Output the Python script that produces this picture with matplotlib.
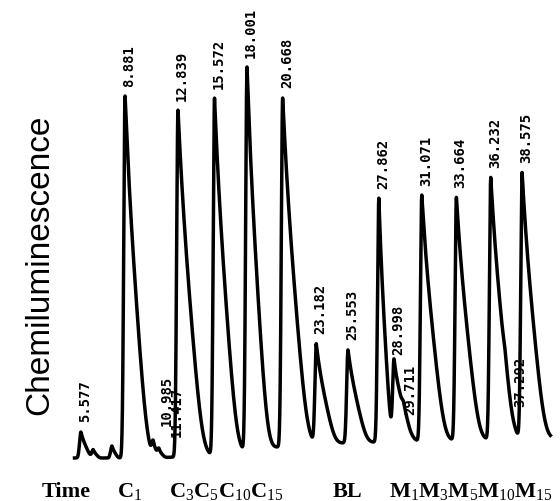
import numpy as np
import matplotlib.pyplot as plt

# retention times (min) printed by the integrator, and peak heights above baseline
peak_times = [5.577, 8.881, 10.985, 11.417, 12.839, 15.572, 18.001, 20.668, 23.182,
              25.553, 27.862, 28.998, 29.711, 31.071, 33.664, 36.232, 37.292, 38.575]
peak_labels = ["5.577", "8.881", "10.985", "11.417", "12.839", "15.572", "18.001",
               "20.668", "23.182", "25.553", "27.862", "28.998", "29.711", "31.071",
               "33.664", "36.232", "37.292", "38.575"]
peak_heights = [26, 362, 14, 8, 347, 357, 384, 349, 99,
                93, 244, 80, 6, 246, 243, 262, 6, 266]
peak_tails = [0.5, 1.1, 0.3, 0.3, 1.2, 1.1, 1.0, 1.2, 0.9,
              0.9, 0.6, 0.9, 0.3, 1.1, 1.1, 1.1, 0.3, 1.1]

# small unlabelled bumps on the baseline
bump_times = [6.5, 7.9]
bump_heights = [8, 12]

# baseline drift read at a few times
base_times = [5.1, 11.0, 16.0, 22.0, 40.7]
base_levels = [0, 0, 3, 14, 20]

# group labels under the trace
group_labels = ["Time", r"$\mathbf{C}_{1}$",
                r"$\mathbf{C}_{3}\mathbf{C}_{5}\mathbf{C}_{10}\mathbf{C}_{15}$",
                "BL", r"$\mathbf{M}_{1}\mathbf{M}_{3}\mathbf{M}_{5}\mathbf{M}_{10}\mathbf{M}_{15}$"]
group_x = [42, 117, 169, 333, 389]

# the integrator printed a few small-peak labels away from the trace
label_shift = {"10.985": (5, 10), "11.417": (8, 8), "29.711": (-0.5, -9),
               "37.292": (6, -42), "28.998": (-2, 3)}

plt.rcParams['mathtext.fontset'] = 'custom'
plt.rcParams['mathtext.rm'] = 'Liberation Serif'
plt.rcParams['mathtext.bf'] = 'Liberation Serif:bold'
plt.rcParams['mathtext.default'] = 'rm'


def peak(t, t0, h, tail):
    dt = t - t0
    d = np.clip(dt, 0, None)
    rise = np.exp(-0.5 * (dt / 0.1) ** 2)
    fall = np.exp(-d / tail - (d / (1.5 * tail)) ** 4)
    return h * np.where(dt < 0, rise, fall)


t = np.arange(5.1, 40.7, 0.01)
trace = np.interp(t, base_times, base_levels)
for t0, h, tail in zip(peak_times, peak_heights, peak_tails):
    trace = trace + peak(t, t0, h, tail)
for t0, h in zip(bump_times, bump_heights):
    trace = trace + peak(t, t0, h, 0.3)

fig = plt.figure(figsize=(5.6, 5.01), dpi=100)
ax = fig.add_axes([0, 0, 1, 1])
ax.plot(t, trace, color='black', lw=2.5, solid_joinstyle='round')
ax.set_xlim(-0.474, 41.41)
ax.set_ylim(-43, 458)
ax.axis('off')

for t0, lbl in zip(peak_times, peak_labels):
    y = np.interp(t0, t, trace)
    ax.annotate(lbl, xy=(t0, y), xytext=label_shift.get(lbl, (-2, 7)),
                textcoords='offset points', rotation=90, ha='left', va='bottom',
                fontsize=10, fontweight='bold', family='DejaVu Sans Mono')

for x, lbl in zip(group_x, group_labels):
    fig.text(x / 560, 1 - 497 / 501, lbl, ha='left', va='baseline', fontsize=16,
             family='Liberation Serif', fontweight='bold')

fig.text(40 / 560, 1 - 265 / 501, "Chemiluminescence", rotation=90, ha='center',
         va='center', fontsize=24, family='Liberation Sans')

fig.savefig('out.png', dpi=100)
